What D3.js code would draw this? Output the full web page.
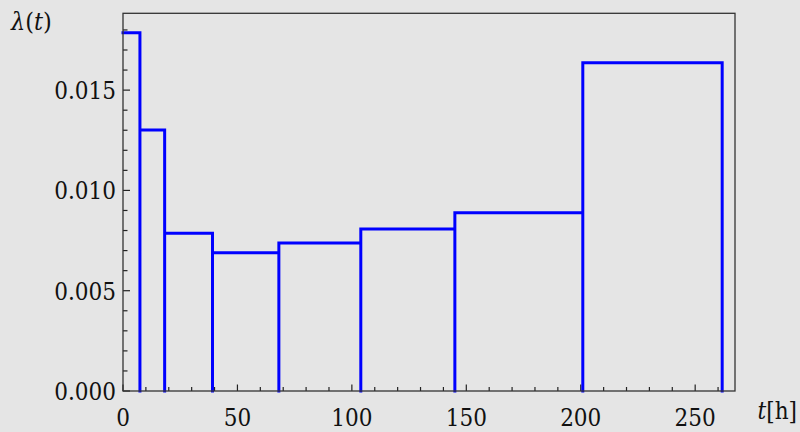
<!DOCTYPE html>
<html><head><meta charset="utf-8">
<script src="https://cdn.jsdelivr.net/npm/d3@7"></script>
<style>
html,body{margin:0;padding:0;background:#e5e5e5;}
svg{display:block;}
text{font-stretch:condensed;}
</style></head>
<body>
<svg id="c" width="800" height="432"></svg>
<script>
// step boundaries (hours) and hazard rate per interval
const edges = [0, 7.4, 18.2, 39.1, 68.1, 103.9, 145.0, 200.9, 261.8];
const rates = [0.01786, 0.01301, 0.00786, 0.00689, 0.00738, 0.00808, 0.00889, 0.01637];
const xTicks = [0, 50, 100, 150, 200, 250];
const yTicks = [0.000, 0.005, 0.010, 0.015];
const yTickLabels = ["0.000", "0.005", "0.010", "0.015"];

const FONT = "'DejaVu Serif Condensed', 'DejaVu Serif', serif";
const W = 800, H = 432;
const L = 123, R = 735, T = 13.3, B = 391;
const svg = d3.select("#c");
svg.append("rect").attr("width", W).attr("height", H).attr("fill", "#e5e5e5");

const x = d3.scaleLinear().domain([0, 267.4]).range([L, R]);
const y = d3.scaleLinear().domain([0, 0.01883]).range([B, T]);

// minor + major ticks (inward)
const g = svg.append("g");
const xMinor = d3.range(0, 268, 10);
const yMinor = d3.range(0, 0.0188, 0.001);
g.selectAll(".xm").data(xMinor).enter().append("line")
  .attr("x1", d => x(d)).attr("x2", d => x(d))
  .attr("y1", B).attr("y2", d => xTicks.includes(d) ? B - 6.5 : B - 4)
  .attr("stroke", "#222").attr("stroke-width", 1.2);
g.selectAll(".ym").data(yMinor).enter().append("line")
  .attr("y1", d => y(d)).attr("y2", d => y(d))
  .attr("x1", L).attr("x2", (d, i) => (i % 5 === 0) ? L + 7 : L + 4.5)
  .attr("stroke", "#222").attr("stroke-width", 1.2);

// step line
const path = d3.path();
path.moveTo(x(edges[0]), y(rates[0]));
rates.forEach((r, i) => {
  path.lineTo(x(edges[i + 1]), y(r));
  path.lineTo(x(edges[i + 1]), y(0));
  if (i + 1 < rates.length) {
    path.moveTo(x(edges[i + 1]), y(rates[i + 1]));
    path.lineTo(x(edges[i + 1]), y(r));
    path.moveTo(x(edges[i + 1]), y(rates[i + 1]));
  }
});
svg.append("path").attr("d", path.toString())
  .attr("fill", "none").attr("stroke", "#0000ff").attr("stroke-width", 3)
  .attr("stroke-linejoin", "miter").attr("stroke-linecap", "square");

// frame
svg.append("rect").attr("x", L).attr("y", T).attr("width", R - L).attr("height", B - T)
  .attr("fill", "none").attr("stroke", "#333").attr("stroke-width", 1.3);

// tick labels
svg.selectAll(".xl").data(xTicks).enter().append("text")
  .attr("x", d => x(d)).attr("y", 426).attr("text-anchor", "middle")
  .attr("font-family", FONT).attr("font-size", 24).attr("fill", "#111").text(d => d);
svg.selectAll(".yl").data(yTicks).enter().append("text")
  .attr("x", 116).attr("y", d => y(d) + 9).attr("text-anchor", "end")
  .attr("font-family", FONT).attr("font-size", 24).attr("fill", "#111")
  .text((d, i) => yTickLabels[i]);

// axis labels
const yl = svg.append("text").attr("x", 11).attr("y", 29.5)
  .attr("font-family", FONT).attr("font-size", 25).attr("fill", "#111");
yl.append("tspan").attr("font-style", "italic").text("λ");
yl.append("tspan").text("(");
yl.append("tspan").attr("font-style", "italic").text("t");
yl.append("tspan").text(")");
const xl = svg.append("text").attr("x", 797).attr("y", 419).attr("text-anchor", "end")
  .attr("font-family", FONT).attr("font-size", 24).attr("fill", "#111");
xl.append("tspan").attr("font-style", "italic").text("t");
xl.append("tspan").text("[h]");
</script>
</body></html>
